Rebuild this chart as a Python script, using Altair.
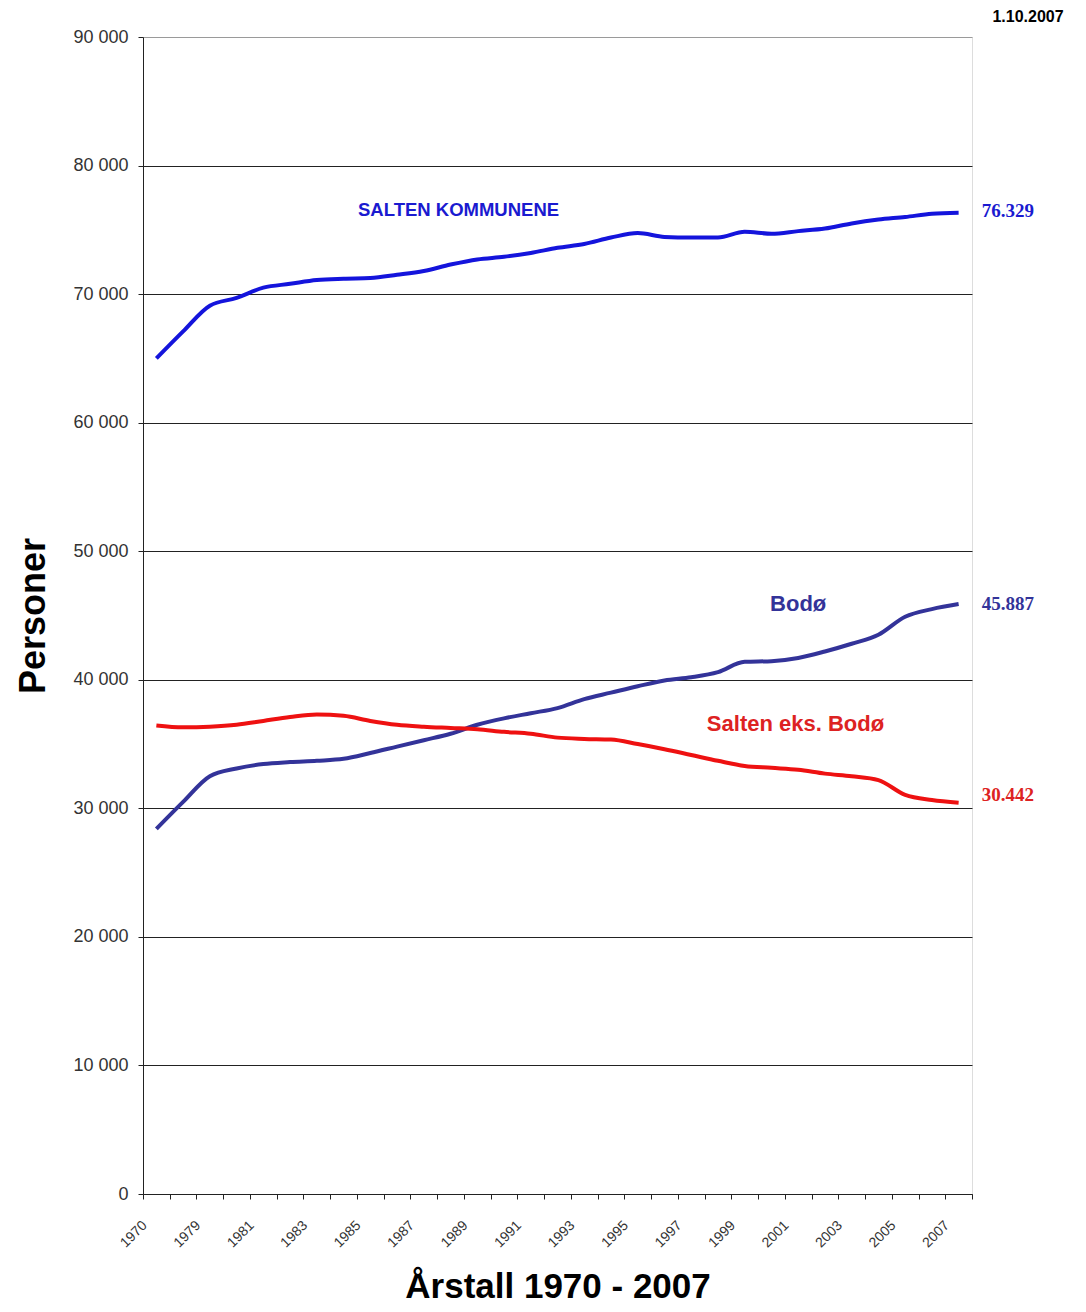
import altair as alt
import pandas as pd

years = [1970, 1978, 1979, 1980, 1981, 1982, 1983, 1984, 1985, 1986, 1987,
         1988, 1989, 1990, 1991, 1992, 1993, 1994, 1995, 1996, 1997, 1998,
         1999, 2000, 2001, 2002, 2003, 2004, 2005, 2006, 2007]

salten = [65000, 67100, 69100, 69700, 70500, 70800, 71100, 71200, 71250, 71500,
          71800, 72300, 72700, 72900, 73200, 73600, 73900, 74400, 74750, 74450,
          74400, 74400, 74850, 74700, 74900, 75100, 75500, 75800, 76000, 76250, 76329]

bodo = [28400, 30500, 32500, 33100, 33450, 33600, 33700, 33850, 34300, 34800,
        35300, 35800, 36500, 37000, 37400, 37800, 38500, 39000, 39500, 39950,
        40200, 40600, 41400, 41450, 41700, 42200, 42800, 43500, 44900, 45500, 45887]

salten_eks = [36450, 36300, 36350, 36500, 36800, 37100, 37300, 37200, 36800, 36500,
              36350, 36250, 36150, 35950, 35800, 35500, 35400, 35350, 35000, 34600,
              34150, 33700, 33300, 33150, 33000, 32700, 32500, 32200, 31050, 30650, 30442]

series_names = ["SALTEN KOMMUNENE", "Bodø", "Salten eks. Bodø"]
line_colors = ["#1414DC", "#333399", "#EE1111"]
text_colors = ["#1A1AD0", "#333399", "#DD2222"]

# annotation placement (category index, value)
name_pos_i = [11.3, 24.0, 23.9]
name_pos_v = [76550, 45900, 36560]
name_sizes = [18.5, 22, 22]

end_labels = ["76.329", "45.887", "30.442"]
end_label_v = [76450, 45900, 31000]

date_label = "1.10.2007"

y_ticks = [0, 10000, 20000, 30000, 40000, 50000, 60000, 70000, 80000, 90000]

rows = []
for name, col, vals in zip(series_names, line_colors, [salten, bodo, salten_eks]):
    for i, (yr, v) in enumerate(zip(years, vals)):
        rows.append({"i": i, "year": yr, "value": v, "series": name, "color": col})
df = pd.DataFrame(rows)

n = len(years)
names_df = pd.DataFrame({"label": series_names, "i": name_pos_i, "value": name_pos_v,
                         "color": text_colors, "fs": name_sizes})
ends_df = pd.DataFrame({"label": end_labels, "i": [n - 1] * 3, "value": end_label_v,
                        "color": text_colors})
date_df = pd.DataFrame({"label": [date_label], "i": [n - 1], "value": [y_ticks[-1]]})

xscale = alt.Scale(domain=[-0.5, n - 0.5], nice=False, zero=False)
yscale = alt.Scale(domain=[0, 90000], nice=False)

y_axis = alt.Axis(
    values=y_ticks,
    labelExpr="replace(format(datum.value, ','), ',', ' ')",
    labelFont="Liberation Sans", labelFontSize=18, labelColor="#333333",
    labelPadding=10, tickSize=5, tickColor="#222222",
    domainColor="#222222",
    grid=True,
    gridColor={"condition": {"test": "datum.value == 90000", "value": "#9a9a9a"}, "value": "#222222"},
    gridWidth=1,
    title="Personer", titleFont="Liberation Sans", titleFontSize=36, titleFontWeight="bold",
    titleColor="#000000", titleX=-110, titleBaseline="middle",
)

tick_axis = alt.Axis(
    orient="bottom",
    values=[k - 0.5 for k in range(n + 1)],
    labels=False, grid=False, tickSize=5, tickColor="#222222",
    domainColor="#222222", title=None,
)

year_arr = "[" + ",".join(str(y) for y in years) + "]"
label_axis = alt.Axis(
    orient="bottom",
    values=list(range(0, n, 2)),
    labelExpr="'' + " + year_arr + "[datum.value]",
    labelAngle=315, labelAlign="right", labelBaseline="middle",
    labelFont="Liberation Sans", labelFontSize=14, labelColor="#333333",
    labelPadding=29, labelOffset=-12,
    ticks=False, domain=False, grid=False,
    title="Årstall 1970 - 2007", titleFont="Liberation Sans", titleFontSize=35,
    titleFontWeight="bold", titleColor="#000000", titleY=103, titleBaseline="alphabetic",
)

lines = alt.Chart(df).mark_line(strokeWidth=4, interpolate="monotone").encode(
    x=alt.X("i:Q", scale=xscale, axis=tick_axis),
    y=alt.Y("value:Q", scale=yscale, axis=y_axis),
    color=alt.Color("color:N", scale=None),
    detail="series:N",
)

ends = alt.Chart(ends_df).mark_text(
    align="left", baseline="middle", dx=23,
    font="Liberation Serif", fontSize=19, fontWeight="bold",
).encode(
    x=alt.X("i:Q", scale=xscale, axis=label_axis),
    y=alt.Y("value:Q", scale=yscale, axis=y_axis),
    text="label:N",
    color=alt.Color("color:N", scale=None),
)

names = alt.Chart(names_df).mark_text(
    align="center", baseline="middle", font="Liberation Sans", fontWeight="bold",
).encode(
    x=alt.X("i:Q", scale=xscale, axis=None),
    y=alt.Y("value:Q", scale=yscale, axis=y_axis),
    text="label:N",
    color=alt.Color("color:N", scale=None),
    size=alt.Size("fs:Q", scale=None),
)

date_text = alt.Chart(date_df).mark_text(
    align="right", baseline="alphabetic", dx=105, dy=-15,
    font="Liberation Sans", fontSize=16, fontWeight="bold", color="#000000",
).encode(
    x=alt.X("i:Q", scale=xscale, axis=None),
    y=alt.Y("value:Q", scale=yscale, axis=y_axis),
    text="label:N",
)

chart = alt.layer(lines, ends, names, date_text).resolve_axis(x="independent").properties(
    width=829, height=1157,
    autosize=alt.AutoSizeParams(type="none"),
    padding={"left": 135, "top": 29, "right": 106, "bottom": 110},
).configure_view(stroke="#8a8a8a", strokeWidth=1).configure(background="white")

chart.save("out.html", embed_options={"renderer": "svg", "actions": False})
